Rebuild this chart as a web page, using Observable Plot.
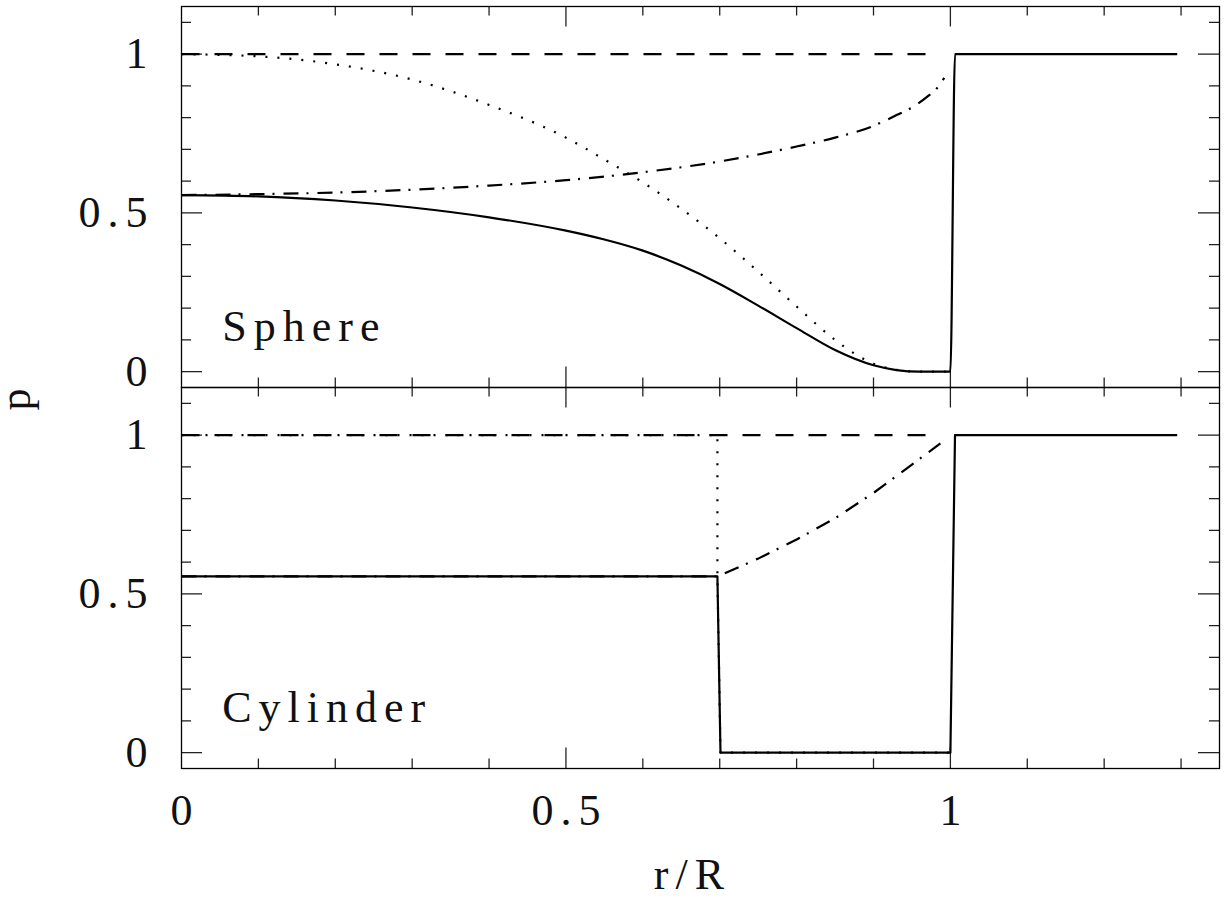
<!DOCTYPE html>
<html>
<head>
<meta charset="utf-8">
<script src="https://cdn.jsdelivr.net/npm/d3@7"></script>
<script src="https://cdn.jsdelivr.net/npm/@observablehq/plot@0.6"></script>
<style>
  html, body { margin: 0; padding: 0; background: #fff; }
</style>
</head>
<body>
<div id="chart"></div>
<script>
// ---- Data ----
const panels = ["Sphere", "Cylinder"];

// Sphere panel
const sphereSolidR   = [0, 0.1, 0.2, 0.3, 0.4, 0.5, 0.55, 0.6, 0.65, 0.7, 0.75, 0.8, 0.85, 0.9, 0.93, 0.96, 1.0, 1.006, 1.295];
const sphereSolidP   = [0.556, 0.552, 0.539, 0.517, 0.486, 0.444, 0.416, 0.381, 0.334, 0.276, 0.208, 0.137, 0.068, 0.02, 0.005, 0, 0, 1, 1];
const sphereDottedR  = [0, 0.1, 0.2, 0.3, 0.4, 0.5, 0.55, 0.6, 0.65, 0.7, 0.75, 0.8, 0.85, 0.875, 0.9, 0.93, 0.96, 1.0];
const sphereDottedP  = [1, 0.993, 0.968, 0.92, 0.84, 0.737, 0.668, 0.596, 0.513, 0.42, 0.315, 0.205, 0.1, 0.057, 0.025, 0.006, 0, 0];
const sphereDashDotR = [0, 0.1, 0.2, 0.3, 0.4, 0.5, 0.6, 0.7, 0.75, 0.8, 0.85, 0.9, 0.93, 0.95, 0.97, 0.983, 0.992];
const sphereDashDotP = [0.556, 0.559, 0.564, 0.573, 0.586, 0.603, 0.628, 0.662, 0.684, 0.709, 0.737, 0.774, 0.808, 0.832, 0.866, 0.894, 0.925];
const sphereDashedR  = [0, 0.985];
const sphereDashedP  = [1, 1];

// Cylinder panel
const cylSolidR   = [0, 0.697, 0.701, 1.0, 1.006, 1.295];
const cylSolidP   = [0.555, 0.555, 0, 0, 1, 1];
const cylDottedR  = [0, 0.697, 0.697, 0.701, 1.0];
const cylDottedP  = [1, 1, 0.555, 0, 0];
const cylDashDotR = [0, 0.697, 0.75, 0.8, 0.85, 0.9, 0.95, 0.987];
const cylDashDotP = [0.555, 0.555, 0.611, 0.671, 0.738, 0.818, 0.907, 0.974];
const cylDashedR  = [0, 0.985];
const cylDashedP  = [1, 1];

// Axes / ticks
const xDomain = [0, 1.35];
const yDomain = [-0.05, 1.15];
const xMinorTicks = [0.1, 0.2, 0.3, 0.4, 0.6, 0.7, 0.8, 0.9, 1.1, 1.2, 1.3];
const xMajorTicks = [0.5, 1];
const xTickLabels = [0, 0.5, 1];
const yMinorTicks = [0.1, 0.2, 0.3, 0.4, 0.6, 0.7, 0.8, 0.9, 1.1];
const yMajorTicks = [0, 0.5, 1];
const yTickLabels = [0, 0.5, 1];
const xLabel = "r/R";
const yLabel = "p";

// ---- Build tables ----
const styles = {
  solid:   {dash: null},
  dashed:  {dash: "18,15"},
  dotted:  {dash: "2,10"},
  dashdot: {dash: "15,8,2,9"}
};
const seriesList = [
  {panel: "Sphere", style: "dashed",  r: sphereDashedR,  p: sphereDashedP,  curve: "linear"},
  {panel: "Sphere", style: "dotted",  r: sphereDottedR,  p: sphereDottedP,  curve: "monotone-x"},
  {panel: "Sphere", style: "dashdot", r: sphereDashDotR, p: sphereDashDotP, curve: "monotone-x"},
  {panel: "Sphere", style: "solid",   r: sphereSolidR,   p: sphereSolidP,   curve: "monotone-x"},
  {panel: "Cylinder", style: "dashed",  r: cylDashedR,  p: cylDashedP,  curve: "linear"},
  {panel: "Cylinder", style: "dotted",  r: cylDottedR,  p: cylDottedP,  curve: "linear"},
  {panel: "Cylinder", style: "dashdot", r: cylDashDotR, p: cylDashDotP, curve: "linear"},
  {panel: "Cylinder", style: "solid",   r: cylSolidR,   p: cylSolidP,   curve: "linear"}
];

const W = 1225, H = 901, mt = 5, mb = 133, ml = 181, mr = 6;
const fw = W - ml - mr;
const fh = (H - mt - mb) / panels.length;
const minorLen = 10, majorLen = 21;
const FS = 44;
const LS = 7;
const FONT = "'Liberation Serif', 'Times New Roman', serif";

const lineMarks = seriesList.map(s => {
  const rows = s.r.map((r, i) => ({panel: s.panel, r, p: s.p[i]}));
  return Plot.line(rows, {
    x: "r", y: "p", fy: "panel",
    stroke: "black", strokeWidth: 2.2,
    strokeDasharray: styles[s.style].dash || undefined,
    strokeLinecap: "butt",
    curve: s.curve
  });
});

const tickStyle = {stroke: "#222", strokeWidth: 1.3};

const chart = Plot.plot({
  width: W, height: H,
  marginTop: mt, marginBottom: mb, marginLeft: ml, marginRight: mr,
  x: {domain: xDomain, axis: null},
  y: {domain: yDomain, axis: null},
  fy: {domain: panels, padding: 0, axis: null},
  style: `font-family: ${FONT}; letter-spacing: ${LS}px; background: white; color: black;`,
  marks: [
    // inward ticks: left / right
    Plot.tickY(yMinorTicks, {y: d => d, insetRight: fw - minorLen, ...tickStyle}),
    Plot.tickY(yMajorTicks, {y: d => d, insetRight: fw - majorLen, ...tickStyle}),
    Plot.tickY(yMinorTicks, {y: d => d, insetLeft: fw - minorLen, ...tickStyle}),
    Plot.tickY(yMajorTicks, {y: d => d, insetLeft: fw - majorLen, ...tickStyle}),
    // inward ticks: top / bottom
    Plot.tickX(xMinorTicks, {x: d => d, insetBottom: fh - minorLen, ...tickStyle}),
    Plot.tickX(xMajorTicks, {x: d => d, insetBottom: fh - majorLen, ...tickStyle}),
    Plot.tickX(xMinorTicks, {x: d => d, insetTop: fh - minorLen, ...tickStyle}),
    Plot.tickX(xMajorTicks, {x: d => d, insetTop: fh - majorLen, ...tickStyle}),
    // curves
    ...lineMarks,
    // frame
    Plot.frame({stroke: "black", strokeWidth: 1.3}),
    // y tick labels (each panel)
    Plot.text(yTickLabels, {
      y: d => d, frameAnchor: "left", dx: -34 + LS, textAnchor: "end", lineAnchor: "middle",
      text: d => String(d), fontSize: FS, fontFamily: FONT, fill: "#111"
    }),
    // x tick labels (bottom panel only)
    Plot.text(xTickLabels, {
      x: d => d, fy: () => panels[panels.length - 1], frameAnchor: "bottom",
      dy: 56, dx: LS / 2, lineAnchor: "bottom", textAnchor: "middle",
      text: d => String(d), fontSize: FS, fontFamily: FONT, fill: "#111"
    }),
    // x axis label
    Plot.text([xLabel], {
      x: () => 0.66, fy: () => panels[panels.length - 1], frameAnchor: "bottom",
      dy: 120, dx: LS / 2, lineAnchor: "bottom", textAnchor: "middle",
      text: d => d, fontSize: FS, fontFamily: FONT, fill: "#111"
    }),
    // y axis label
    Plot.text([yLabel], {
      fy: () => panels[0], frameAnchor: "bottom-left",
      dx: -152, dy: 12 - LS / 2, rotate: -90, lineAnchor: "bottom", textAnchor: "middle",
      text: d => d, fontSize: FS, fontFamily: FONT, fill: "#111"
    }),
    // panel names
    Plot.text(panels, {
      fy: d => d, x: () => 0.053, y: () => 0.095,
      textAnchor: "start", lineAnchor: "bottom",
      text: d => d, fontSize: FS, fontFamily: FONT, fill: "#111"
    })
  ]
});

document.getElementById("chart").appendChild(chart);
</script>
</body>
</html>
